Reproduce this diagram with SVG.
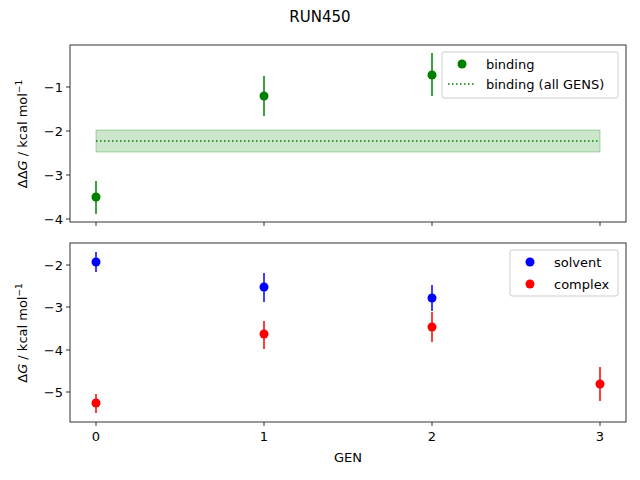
<svg xmlns="http://www.w3.org/2000/svg" width="640" height="480" viewBox="0 0 640 480">
<style>
text{font-family:"DejaVu Sans",sans-serif;font-size:13px;fill:#000}
.ax{fill:none;stroke:#000;stroke-width:0.8}
.tk{stroke:#000;stroke-width:0.8}
.g{stroke:green;stroke-width:1.5}
.b{stroke:blue;stroke-width:1.5}
.r{stroke:red;stroke-width:1.5}
.lg{fill:#fff;fill-opacity:0.8;stroke:#ccc;stroke-width:1}
</style>
<rect width="640" height="480" fill="#fff"/>
<text x="320" y="22" text-anchor="middle" style="font-size:15px">RUN450</text>
<g id="top">
<rect x="96" y="130" width="504" height="22" fill="green" fill-opacity="0.2" stroke="green" stroke-opacity="0.3"/>
<line x1="96" y1="141" x2="600" y2="141" stroke="green" stroke-width="1.5" stroke-dasharray="1.5,2.5"/>
<line class="g" x1="96" y1="181" x2="96" y2="214"/><circle cx="96" cy="197" r="4.5" fill="green"/>
<line class="g" x1="264" y1="76" x2="264" y2="116"/><circle cx="264" cy="96" r="4.5" fill="green"/>
<line class="g" x1="432" y1="53" x2="432" y2="96"/><circle cx="432" cy="75" r="4.5" fill="green"/>
<rect class="ax" x="70" y="45" width="556" height="177"/>
<g class="tk"><line x1="96" y1="222" x2="96" y2="226"/><line x1="264" y1="222" x2="264" y2="226"/><line x1="432" y1="222" x2="432" y2="226"/><line x1="600" y1="222" x2="600" y2="226"/>
<line x1="66" y1="87" x2="70" y2="87"/><line x1="66" y1="131" x2="70" y2="131"/><line x1="66" y1="175" x2="70" y2="175"/><line x1="66" y1="219" x2="70" y2="219"/></g>
<text x="63" y="92" text-anchor="end">−1</text><text x="63" y="136" text-anchor="end">−2</text><text x="63" y="180" text-anchor="end">−3</text><text x="63" y="224" text-anchor="end">−4</text>
<text transform="translate(27,134) rotate(-90)" text-anchor="middle">ΔΔ<tspan font-style="italic">G</tspan> / kcal mol<tspan dy="-5" font-size="9">−1</tspan></text>
<rect class="lg" x="442" y="52" width="176" height="46" rx="2"/>
<circle cx="462" cy="64" r="4.5" fill="green"/><text x="486" y="69">binding</text>
<line x1="448" y1="84" x2="476" y2="84" stroke="green" stroke-width="1.5" stroke-dasharray="1.5,2.5"/><text x="486" y="89">binding (all GENS)</text>
</g>
<g id="bottom">
<line class="b" x1="96" y1="252" x2="96" y2="272"/><circle cx="96" cy="262" r="4.5" fill="blue"/>
<line class="b" x1="264" y1="273" x2="264" y2="302"/><circle cx="264" cy="287" r="4.5" fill="blue"/>
<line class="b" x1="432" y1="285" x2="432" y2="311"/><circle cx="432" cy="298" r="4.5" fill="blue"/>
<line class="r" x1="96" y1="394" x2="96" y2="413"/><circle cx="96" cy="403" r="4.5" fill="red"/>
<line class="r" x1="264" y1="321" x2="264" y2="349"/><circle cx="264" cy="334" r="4.5" fill="red"/>
<line class="r" x1="432" y1="312" x2="432" y2="342"/><circle cx="432" cy="327" r="4.5" fill="red"/>
<line class="r" x1="600" y1="367" x2="600" y2="401"/><circle cx="600" cy="384" r="4.5" fill="red"/>
<rect class="ax" x="70" y="243" width="556" height="179"/>
<g class="tk"><line x1="96" y1="422" x2="96" y2="426"/><line x1="264" y1="422" x2="264" y2="426"/><line x1="432" y1="422" x2="432" y2="426"/><line x1="600" y1="422" x2="600" y2="426"/>
<line x1="66" y1="265" x2="70" y2="265"/><line x1="66" y1="307" x2="70" y2="307"/><line x1="66" y1="350" x2="70" y2="350"/><line x1="66" y1="392" x2="70" y2="392"/></g>
<text x="63" y="270" text-anchor="end">−2</text><text x="63" y="312" text-anchor="end">−3</text><text x="63" y="355" text-anchor="end">−4</text><text x="63" y="397" text-anchor="end">−5</text>
<text x="96" y="441" text-anchor="middle">0</text><text x="264" y="441" text-anchor="middle">1</text><text x="432" y="441" text-anchor="middle">2</text><text x="600" y="441" text-anchor="middle">3</text>
<text x="348" y="462" text-anchor="middle">GEN</text>
<text transform="translate(27,333) rotate(-90)" text-anchor="middle">Δ<tspan font-style="italic">G</tspan> / kcal mol<tspan dy="-5" font-size="9">−1</tspan></text>
<rect class="lg" x="510" y="250" width="108" height="46" rx="2"/>
<circle cx="530" cy="262" r="4.5" fill="blue"/><text x="554" y="267">solvent</text>
<circle cx="530" cy="284" r="4.5" fill="red"/><text x="554" y="289">complex</text>
</g>
</svg>
